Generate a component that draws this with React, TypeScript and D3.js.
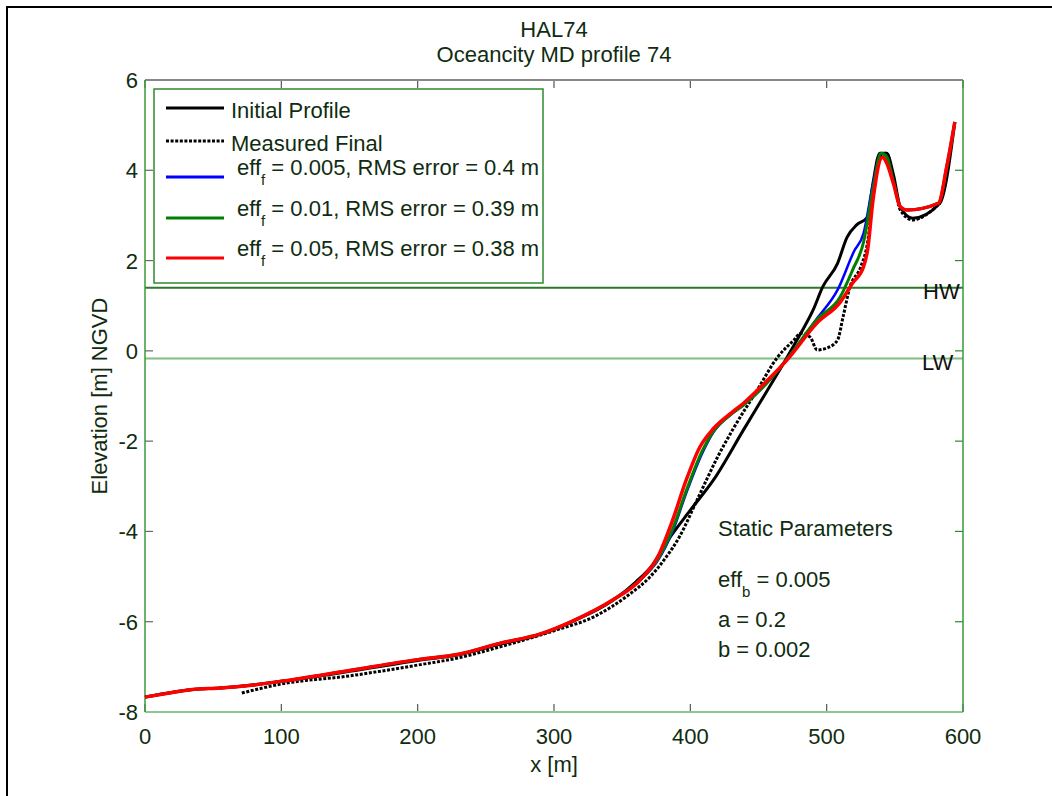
import React from "react";
import * as d3 from "d3";

// Profile data, [x m, elevation m NGVD]
const initialProfile: [number, number][] = [
  [0, -7.67], [35, -7.5], [55, -7.47], [100, -7.32], [150, -7.1], [200, -6.86],
  [230, -6.73], [260, -6.5], [290, -6.28], [314, -5.99], [343, -5.53], [360, -5.12],
  [372, -4.75], [383, -4.22], [400, -3.53], [417, -2.86], [439, -1.75], [455, -0.95],
  [471, -0.14], [481, 0.39], [490, 0.9], [497, 1.41], [508, 1.94], [515, 2.52],
  [522, 2.79], [530, 2.96], [534, 3.72], [539, 4.38], [544, 4.38], [549, 3.9],
  [554, 3.19], [563, 2.94], [583, 3.27], [594, 5.07],
];

const measuredFinal: [number, number][] = [
  [71, -7.58], [100, -7.38], [150, -7.2], [200, -6.96], [230, -6.8], [260, -6.56],
  [300, -6.2], [330, -5.88], [355, -5.4], [370, -5.02], [381, -4.62], [392, -4.12],
  [405, -3.3], [420, -2.35], [431, -1.75], [449, -0.87], [464, -0.14], [476, 0.24],
  [481, 0.39], [488, 0.3], [493, 0.02], [500, 0.06], [508, 0.24], [512, 0.75],
  [517, 1.41], [525, 1.86], [530, 2.4], [534, 3.4], [539, 4.3], [544, 4.38],
  [549, 3.8], [554, 3.12], [563, 2.9], [583, 3.27],
];

const modelEff005: [number, number][] = [
  [0, -7.67], [20, -7.57], [35, -7.5], [55, -7.47], [80, -7.4], [100, -7.32],
  [150, -7.08], [200, -6.84], [230, -6.72], [260, -6.48], [290, -6.27], [314, -5.98],
  [343, -5.52], [363, -5.08], [376, -4.65], [387, -4.0], [397, -3.15], [409, -2.25],
  [417, -1.8], [431, -1.38], [439, -1.2], [455, -0.75], [471, -0.18], [493, 0.72],
  [508, 1.35], [520, 2.2], [527, 2.6], [534, 3.7], [540, 4.38], [544, 4.3],
  [549, 3.75], [554, 3.19], [559, 3.12], [582, 3.27], [588, 4.07], [594, 5.07],
];

const modelEff01: [number, number][] = [
  [0, -7.67], [20, -7.57], [35, -7.5], [55, -7.47], [80, -7.4], [100, -7.32],
  [150, -7.08], [200, -6.84], [230, -6.72], [260, -6.48], [290, -6.27], [314, -5.98],
  [343, -5.52], [363, -5.08], [376, -4.62], [387, -3.95], [397, -3.1], [409, -2.2],
  [417, -1.78], [431, -1.38], [439, -1.2], [455, -0.75], [471, -0.18], [493, 0.7],
  [510, 1.2], [519, 1.79], [527, 2.4], [534, 3.6], [540, 4.38], [544, 4.3],
  [549, 3.75], [554, 3.19], [559, 3.12], [582, 3.27], [588, 4.07], [594, 5.07],
];

const modelEff05: [number, number][] = [
  [0, -7.67], [20, -7.57], [35, -7.5], [55, -7.47], [80, -7.4], [100, -7.32],
  [150, -7.08], [200, -6.84], [230, -6.72], [260, -6.48], [290, -6.27], [314, -5.98],
  [343, -5.52], [363, -5.08], [376, -4.57], [387, -3.75], [397, -2.86], [407, -2.13],
  [417, -1.72], [431, -1.35], [439, -1.16], [455, -0.7], [471, -0.2], [493, 0.62],
  [510, 1.08], [519, 1.5], [527, 1.86], [530, 2.23], [534, 3.34], [541, 4.29],
  [544, 4.16], [549, 3.7], [554, 3.19], [559, 3.12], [582, 3.27], [588, 4.07],
  [594, 5.07],
];

const xTicks = [0, 100, 200, 300, 400, 500, 600];
const yTicks = [-8, -6, -4, -2, 0, 2, 4, 6];
const highWater = 1.4;
const lowWater = -0.17;

const legendItems = [
  { label: "Initial Profile", color: "#000000", dash: "", sub: "" },
  { label: "Measured Final", color: "#000000", dash: "3,1.6", sub: "" },
  { label: " = 0.005, RMS error = 0.4 m", color: "#0000ff", dash: "", sub: "f" },
  { label: " = 0.01, RMS error = 0.39 m", color: "#008000", dash: "", sub: "f" },
  { label: " = 0.05, RMS error = 0.38 m", color: "#ff0000", dash: "", sub: "f" },
];

const width = 1052;
const height = 796;
const marginLeft = 145;
const marginRight = 963;
const marginTop = 80;
const marginBottom = 712;
const font = "'Liberation Sans', Arial, Helvetica, sans-serif";
const textColor = "#102c10";

const App: React.FC = () => {
  const x = d3.scaleLinear().domain([0, 600]).range([marginLeft, marginRight]);
  const y = d3.scaleLinear().domain([-8, 6]).range([marginBottom, marginTop]);

  const line = d3
    .line<[number, number]>()
    .x((d) => x(d[0]))
    .y((d) => y(d[1]))
    .curve(d3.curveMonotoneX);

  const series = [
    { data: initialProfile, color: "#000000", dash: "", w: 3 },
    { data: measuredFinal, color: "#000000", dash: "3,1.6", w: 3 },
    { data: modelEff005, color: "#0000ff", dash: "", w: 2.5 },
    { data: modelEff01, color: "#008000", dash: "", w: 3 },
    { data: modelEff05, color: "#ff0000", dash: "", w: 3.5 },
  ];

  const legendRowY = [108, 141, 177, 218, 258];

  return (
    <svg
      width={width}
      height={height}
      style={{ position: "absolute", left: 0, top: 0, background: "#fff" }}
      fontFamily={font}
      fontSize={22}
    >
      {/* figure frame */}
      <path d={`M7,${height}V7H${width}`} fill="none" stroke="#000" strokeWidth={2} />

      {/* titles */}
      <text x={554} y={37} textAnchor="middle" fill={textColor}>HAL74</text>
      <text x={554} y={62} textAnchor="middle" fill={textColor}>Oceancity MD profile 74</text>

      {/* water levels */}
      <line x1={marginLeft} x2={marginRight} y1={y(highWater)} y2={y(highWater)} stroke="#2a7a2a" strokeWidth={2} />
      <line x1={marginLeft} x2={marginRight} y1={y(lowWater)} y2={y(lowWater)} stroke="#7fbf7f" strokeWidth={2} />
      <text x={923} y={y(highWater) + 11} fill="#111">HW</text>
      <text x={922} y={y(lowWater) + 11} fill="#111">LW</text>

      {/* ticks */}
      {xTicks.map((t) => (
        <g key={"x" + t}>
          <line x1={x(t)} x2={x(t)} y1={marginBottom} y2={marginBottom - 8} stroke="#555" strokeWidth={1.2} />
          <line x1={x(t)} x2={x(t)} y1={marginTop} y2={marginTop + 8} stroke="#555" strokeWidth={1.2} />
          <text x={x(t)} y={marginBottom + 32} textAnchor="middle" fill={textColor}>{t}</text>
        </g>
      ))}
      {yTicks.map((t) => (
        <g key={"y" + t}>
          <line x1={marginLeft} x2={marginLeft + 8} y1={y(t)} y2={y(t)} stroke="#666" strokeWidth={1.2} />
          <line x1={marginRight} x2={marginRight - 8} y1={y(t)} y2={y(t)} stroke="#2a8a2a" strokeWidth={1.2} />
          <text x={marginLeft - 7} y={y(t) + 8} textAnchor="end" fill={textColor}>{t}</text>
        </g>
      ))}

      {/* axes box */}
      <line x1={marginLeft} x2={marginRight} y1={marginTop} y2={marginTop} stroke="#888" strokeWidth={2} />
      <line x1={marginLeft} x2={marginRight} y1={marginBottom} y2={marginBottom} stroke="#8cc88c" strokeWidth={2} />
      <line x1={marginLeft} x2={marginLeft} y1={marginTop} y2={marginBottom} stroke="#3a9a3a" strokeWidth={1.5} />
      <line x1={marginRight} x2={marginRight} y1={marginTop} y2={marginBottom} stroke="#3a9a3a" strokeWidth={1.5} />

      {/* axis labels */}
      <text x={554} y={772} textAnchor="middle" fill={textColor}>x [m]</text>
      <text
        transform={`translate(107,${(marginTop + marginBottom) / 2}) rotate(-90)`}
        textAnchor="middle"
        fill={textColor}
      >
        Elevation [m] NGVD
      </text>

      {/* profiles */}
      {series.map((s, i) => (
        <path
          key={i}
          d={line(s.data) || ""}
          fill="none"
          stroke={s.color}
          strokeWidth={s.w}
          strokeDasharray={s.dash || undefined}
          strokeLinejoin="round"
        />
      ))}

      {/* legend */}
      <rect x={154} y={89} width={389} height={194} fill="#fff" stroke="#2e8b2e" strokeWidth={1.5} />
      {legendItems.map((item, i) => (
        <g key={item.label}>
          <line
            x1={166}
            x2={224}
            y1={legendRowY[i]}
            y2={legendRowY[i]}
            stroke={item.color}
            strokeWidth={3}
            strokeDasharray={item.dash || undefined}
          />
          {item.sub ? (
            <text x={237} y={legendRowY[i] - 2} fill={textColor}>
              eff
              <tspan fontSize={15} dy={10}>{item.sub}</tspan>
              <tspan dy={-10}>{item.label}</tspan>
            </text>
          ) : (
            <text x={231} y={legendRowY[i] + 10} fill={textColor}>{item.label}</text>
          )}
        </g>
      ))}

      {/* static parameters */}
      <text x={718} y={536} fill={textColor}>Static Parameters</text>
      <text x={718} y={587} fill={textColor}>
        eff
        <tspan fontSize={15} dy={10}>b</tspan>
        <tspan dy={-10}> = 0.005</tspan>
      </text>
      <text x={718} y={627} fill={textColor}>a = 0.2</text>
      <text x={718} y={657} fill={textColor}>b = 0.002</text>
    </svg>
  );
};

export default App;
